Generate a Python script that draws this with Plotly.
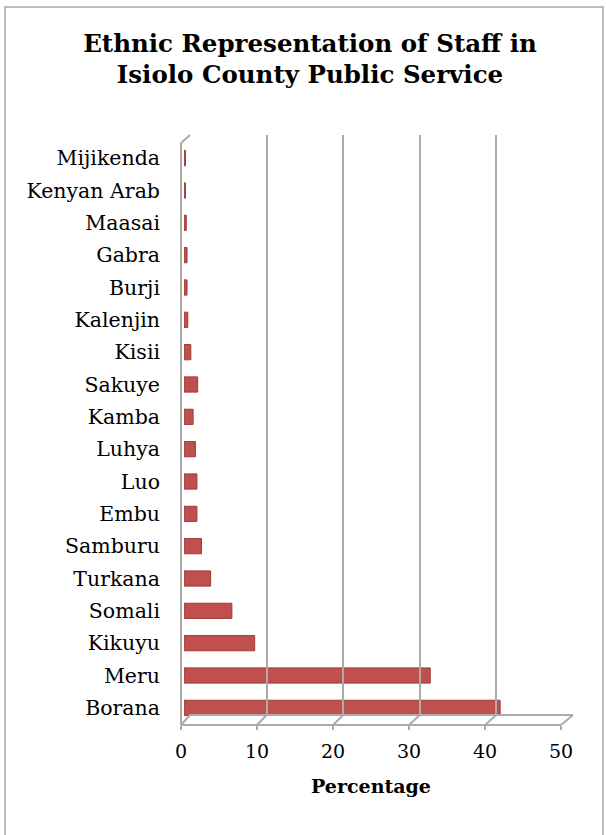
import plotly.graph_objects as go

# ---- data ----
groups = ["Borana", "Meru", "Kikuyu", "Somali", "Turkana", "Samburu", "Embu", "Luo",
          "Luhya", "Kamba", "Sakuye", "Kisii", "Kalenjin", "Burji", "Gabra", "Maasai",
          "Kenyan Arab", "Mijikenda"]
percent = [41.6, 32.4, 9.3, 6.3, 3.5, 2.3, 1.7, 1.7,
           1.5, 1.2, 1.8, 0.9, 0.5, 0.4, 0.4, 0.3,
           0.2, 0.2]
x_ticks = [0, 10, 20, 30, 40, 50]

W, H = 606, 835
FONT = "DejaVu Serif"
GRID = "#ABABAB"


def px_x(p):
    return p / W


def px_y(p):
    return 1 - p / H


front_dom = [px_x(181), px_x(561)]   # front plane (tick labels)
bar_dom = [px_x(184), px_x(564)]     # plane of the bars
back_dom = [px_x(190), px_x(573)]    # back wall (grid)

fig = go.Figure()

fig.add_trace(go.Bar(
    y=groups, x=percent, orientation="h",
    xaxis="x", yaxis="y", width=0.47,
    marker=dict(color="#C0504D", line=dict(color="#9E3A37", width=1)),
    showlegend=False, hoverinfo="x+y",
))
# helper traces so the front/back axes exist
fig.add_trace(go.Bar(y=groups, x=percent, orientation="h", xaxis="x2", yaxis="y",
                     opacity=0, showlegend=False, hoverinfo="skip"))
fig.add_trace(go.Scatter(x=x_ticks, y=[0] * len(x_ticks), xaxis="x3", yaxis="y2",
                         mode="markers", marker=dict(opacity=0), showlegend=False,
                         hoverinfo="skip"))

fig.update_layout(
    width=W, height=H,
    margin=dict(l=0, r=0, t=0, b=0, autoexpand=False),
    paper_bgcolor="white", plot_bgcolor="rgba(0,0,0,0)",
    font=dict(family=FONT, color="black"),
    title=dict(text="Ethnic Representation of Staff in<br>Isiolo County Public Service",
               x=310 / W, xanchor="center", y=px_y(51.5), yanchor="middle",
               font=dict(family=FONT, size=24.5, weight="bold", color="black")),
    xaxis=dict(domain=bar_dom, range=[0, 50], anchor="y", visible=False,
               automargin=False),
    xaxis2=dict(domain=front_dom, range=[0, 50], anchor="free", position=px_y(725),
                tickvals=x_ticks, showgrid=False, zeroline=False, automargin=False,
                showline=True, linecolor=GRID, linewidth=2,
                ticks="outside", ticklen=4, tickcolor=GRID, tickwidth=2,
                ticklabelstandoff=5,
                tickfont=dict(family=FONT, size=19, color="black"),
                title=dict(text="Percentage", standoff=18,
                           font=dict(family=FONT, size=19, weight="bold", color="black"))),
    xaxis3=dict(domain=back_dom, range=[0, 50], anchor="y2", dtick=10, automargin=False,
                showgrid=True, gridcolor=GRID, gridwidth=2, zeroline=False,
                showticklabels=False, ticks="", showline=False),
    yaxis=dict(domain=[px_y(724), px_y(142)], type="category", automargin=False,
               categoryorder="array", categoryarray=groups, range=[-0.5, 17.5],
               anchor="free", position=px_x(181), showgrid=False, zeroline=False,
               showline=False, ticks="", ticklabelstandoff=21,
               tickfont=dict(family=FONT, size=20.5, color="black")),
    yaxis2=dict(domain=[px_y(715), px_y(135)], range=[-1, 1], anchor="x3",
                visible=False, automargin=False),
)

# ---- 3-D frame decoration ----
shapes = []
line = dict(color=GRID, width=2)


def fx(v, dom):
    return dom[0] + v / 50 * (dom[1] - dom[0])


# left wall front edge and top cap
shapes.append(dict(type="line", xref="paper", yref="paper",
                   x0=px_x(181), x1=px_x(181), y0=px_y(725), y1=px_y(143), line=line))
shapes.append(dict(type="line", xref="paper", yref="paper",
                   x0=px_x(181), x1=px_x(190), y0=px_y(143), y1=px_y(135), line=line))
# back floor line
shapes.append(dict(type="line", xref="paper", yref="paper",
                   x0=back_dom[0], x1=back_dom[1], y0=px_y(715), y1=px_y(715), line=line))
# slanted floor ticks from front to back
for v in x_ticks:
    shapes.append(dict(type="line", xref="paper", yref="paper",
                       x0=fx(v, front_dom), x1=fx(v, back_dom),
                       y0=px_y(725), y1=px_y(715), line=line))
# outer chart border
shapes.append(dict(type="rect", xref="paper", yref="paper",
                   x0=px_x(5), x1=px_x(603), y0=px_y(840), y1=px_y(7),
                   line=dict(color="#A6A6A6", width=1.5)))
fig.update_layout(shapes=shapes)

fig.write_html("out.html",
               config={"displayModeBar": False},
               post_script="document.body.style.margin='0';"
                           "document.body.style.overflow='hidden';")
